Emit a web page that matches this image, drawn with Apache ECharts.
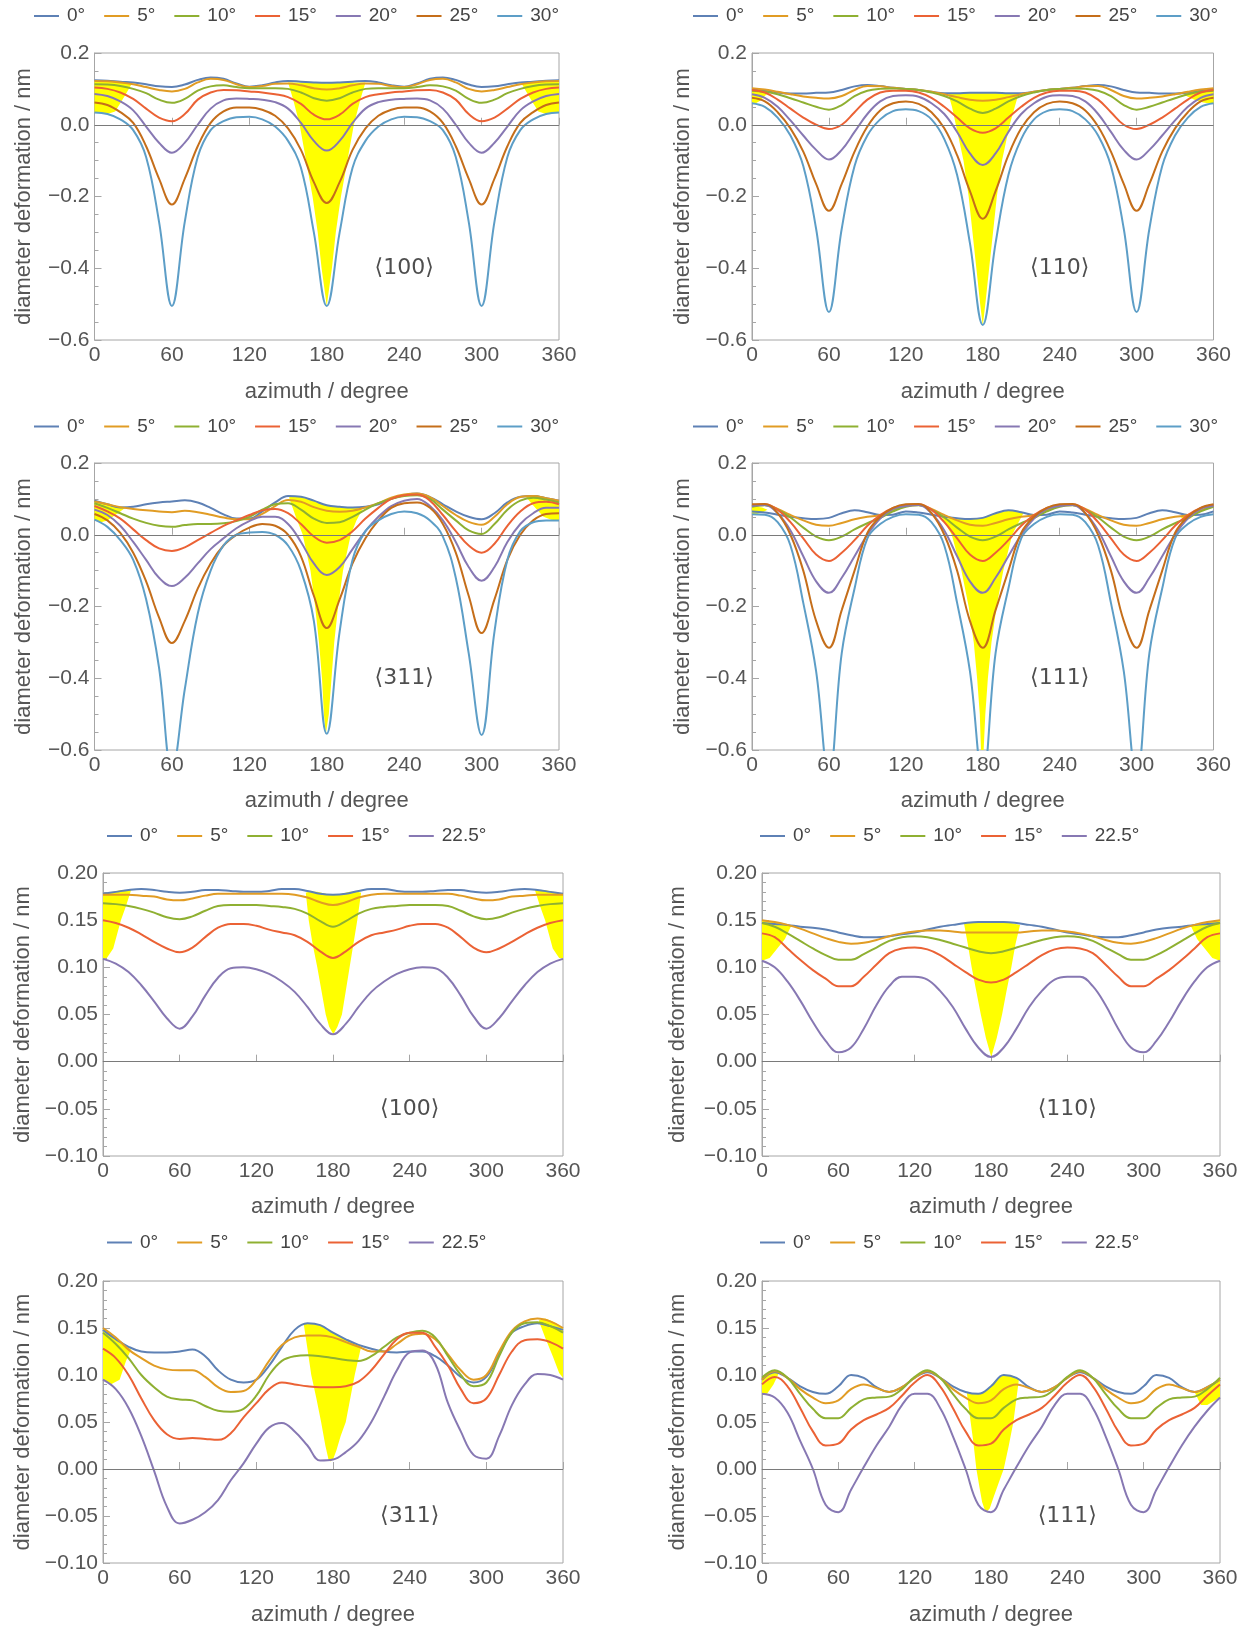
<!DOCTYPE html>
<html lang="en">
  <head>
    <meta charset="UTF-8" />
    <title>Diameter deformation vs azimuth</title>
    <script src="https://cdn.jsdelivr.net/npm/echarts@6/dist/echarts.min.js"></script>
    <style>
      html, body { margin: 0; padding: 0; background: #fff; }
      #main { width: 1252px; height: 1629px; }
    </style>
  </head>
  <body>
    <div id="main"></div>
    <script>
      // azimuth samples, every 10 degrees
      const azimuth = [0,10,20,30,40,50,60,70,80,90,100,110,120,130,140,150,160,170,180,
        190,200,210,220,230,240,250,260,270,280,290,300,310,320,330,340,350,360];
      const tiltsA = ["0°", "5°", "10°", "15°", "20°", "25°", "30°"];
      const tiltsB = ["0°", "5°", "10°", "15°", "22.5°"];
      const tagText = ["⟨100⟩", "⟨110⟩", "⟨311⟩", "⟨111⟩", "⟨100⟩", "⟨110⟩", "⟨311⟩", "⟨111⟩"];
      const tagX = [240, 240, 240, 240, 240, 240, 240, 240];
      const tagY = [-0.4, -0.4, -0.4, -0.4, -0.05, -0.05, -0.05, -0.05];

      // panel 1: <100>, tilts 0..30
      const p1_0 = [0.124,0.123,0.120,0.118,0.113,0.107,0.105,0.112,0.125,0.132,0.128,0.115,0.106,0.110,0.118,0.122,0.120,0.118,0.117,
        0.118,0.120,0.122,0.118,0.110,0.106,0.115,0.128,0.132,0.125,0.112,0.105,0.107,0.113,0.118,0.120,0.123,0.124];
      const p1_5 = [0.122,0.121,0.118,0.113,0.105,0.097,0.093,0.100,0.118,0.128,0.125,0.113,0.105,0.108,0.114,0.115,0.110,0.102,0.098,
        0.102,0.110,0.115,0.114,0.108,0.105,0.113,0.125,0.128,0.118,0.100,0.093,0.097,0.105,0.113,0.118,0.121,0.122];
      const p1_10 = [0.113,0.112,0.108,0.100,0.088,0.070,0.061,0.072,0.095,0.107,0.110,0.105,0.102,0.102,0.102,0.100,0.090,0.074,0.067,
        0.074,0.090,0.100,0.102,0.102,0.102,0.105,0.110,0.107,0.095,0.072,0.061,0.070,0.088,0.100,0.108,0.112,0.113];
      const p1_15 = [0.104,0.100,0.090,0.072,0.045,0.020,0.010,0.030,0.070,0.090,0.097,0.096,0.093,0.090,0.085,0.077,0.058,0.028,0.015,
        0.028,0.058,0.077,0.085,0.090,0.093,0.096,0.097,0.090,0.070,0.030,0.010,0.020,0.045,0.072,0.090,0.100,0.104];
      const p1_20 = [0.086,0.080,0.065,0.040,-0.005,-0.050,-0.078,-0.050,0.000,0.045,0.068,0.073,0.072,0.070,0.063,0.045,0.005,-0.045,-0.072,
        -0.045,0.005,0.045,0.063,0.070,0.072,0.073,0.068,0.045,0.000,-0.050,-0.078,-0.050,-0.005,0.040,0.065,0.080,0.086];
      const p1_25 = [0.062,0.055,0.035,0.005,-0.060,-0.150,-0.222,-0.150,-0.060,0.005,0.037,0.048,0.048,0.042,0.025,-0.010,-0.070,-0.160,-0.218,
        -0.160,-0.070,-0.010,0.025,0.042,0.048,0.048,0.037,0.005,-0.060,-0.150,-0.222,-0.150,-0.060,0.005,0.035,0.055,0.062];
      const p1_30 = [0.034,0.030,0.015,-0.015,-0.090,-0.270,-0.505,-0.270,-0.090,-0.015,0.010,0.021,0.022,0.015,-0.005,-0.045,-0.120,-0.300,-0.505,
        -0.300,-0.120,-0.045,-0.005,0.015,0.022,0.021,0.010,-0.015,-0.090,-0.270,-0.505,-0.270,-0.090,-0.015,0.015,0.030,0.034];

      // panel 2: <110>
      const p2_0 = [0.100,0.096,0.090,0.087,0.087,0.089,0.090,0.097,0.107,0.111,0.108,0.103,0.100,0.097,0.092,0.088,0.088,0.089,0.089,
        0.089,0.088,0.088,0.092,0.097,0.100,0.103,0.108,0.111,0.107,0.097,0.090,0.089,0.087,0.087,0.090,0.096,0.100];
      const p2_5 = [0.102,0.098,0.092,0.085,0.079,0.075,0.073,0.080,0.097,0.108,0.107,0.103,0.100,0.097,0.092,0.085,0.077,0.070,0.067,
        0.070,0.077,0.085,0.092,0.097,0.100,0.103,0.107,0.108,0.097,0.080,0.073,0.075,0.079,0.085,0.092,0.098,0.102];
      const p2_10 = [0.095,0.092,0.085,0.074,0.062,0.050,0.042,0.055,0.080,0.095,0.100,0.101,0.100,0.097,0.090,0.080,0.065,0.045,0.033,
        0.045,0.065,0.080,0.090,0.097,0.100,0.101,0.100,0.095,0.080,0.055,0.042,0.050,0.062,0.074,0.085,0.092,0.095];
      const p2_15 = [0.097,0.090,0.070,0.045,0.020,0.000,-0.012,0.000,0.035,0.070,0.090,0.095,0.095,0.090,0.075,0.050,0.020,-0.010,-0.022,
        -0.010,0.020,0.050,0.075,0.090,0.095,0.095,0.090,0.070,0.035,0.000,-0.012,0.000,0.020,0.045,0.070,0.090,0.097];
      const p2_20 = [0.085,0.075,0.050,0.012,-0.030,-0.070,-0.097,-0.070,-0.020,0.030,0.065,0.080,0.082,0.078,0.060,0.030,-0.020,-0.080,-0.112,
        -0.080,-0.020,0.030,0.060,0.078,0.082,0.080,0.065,0.030,-0.020,-0.070,-0.097,-0.070,-0.030,0.012,0.050,0.075,0.085];
      const p2_25 = [0.075,0.065,0.035,-0.010,-0.075,-0.165,-0.240,-0.165,-0.075,-0.005,0.040,0.060,0.065,0.058,0.035,-0.010,-0.085,-0.185,-0.262,
        -0.185,-0.085,-0.010,0.035,0.058,0.065,0.060,0.040,-0.005,-0.075,-0.165,-0.240,-0.165,-0.075,-0.010,0.035,0.065,0.075];
      const p2_30 = [0.060,0.050,0.020,-0.030,-0.115,-0.290,-0.522,-0.290,-0.115,-0.030,0.015,0.038,0.043,0.038,0.015,-0.040,-0.140,-0.330,-0.558,
        -0.330,-0.140,-0.040,0.015,0.038,0.043,0.038,0.015,-0.030,-0.115,-0.290,-0.522,-0.290,-0.115,-0.030,0.020,0.050,0.060];

      // panel 3: <311>
      const p3_0 = [0.095,0.085,0.076,0.078,0.085,0.090,0.093,0.096,0.090,0.075,0.057,0.045,0.045,0.065,0.090,0.108,0.106,0.095,0.082,
        0.078,0.076,0.078,0.085,0.100,0.110,0.115,0.105,0.085,0.065,0.050,0.043,0.060,0.090,0.106,0.108,0.102,0.095];
      const p3_5 = [0.093,0.085,0.077,0.072,0.068,0.065,0.063,0.067,0.063,0.056,0.048,0.043,0.043,0.058,0.080,0.097,0.092,0.077,0.067,
        0.064,0.067,0.076,0.088,0.103,0.112,0.115,0.105,0.080,0.055,0.036,0.028,0.050,0.085,0.105,0.108,0.102,0.095];
      const p3_10 = [0.088,0.075,0.060,0.045,0.033,0.025,0.022,0.027,0.030,0.030,0.032,0.038,0.050,0.070,0.085,0.088,0.070,0.045,0.033,
        0.035,0.050,0.070,0.088,0.100,0.108,0.110,0.100,0.070,0.040,0.012,0.002,0.030,0.070,0.095,0.103,0.098,0.090];
      const p3_15 = [0.080,0.065,0.045,0.015,-0.015,-0.038,-0.045,-0.035,-0.015,0.005,0.025,0.040,0.055,0.068,0.072,0.060,0.030,-0.005,-0.022,
        -0.015,0.010,0.045,0.075,0.100,0.110,0.112,0.095,0.055,0.010,-0.030,-0.050,-0.025,0.025,0.065,0.088,0.092,0.085];
      const p3_20 = [0.070,0.055,0.025,-0.020,-0.070,-0.120,-0.143,-0.120,-0.080,-0.040,-0.010,0.018,0.038,0.050,0.050,0.030,-0.020,-0.080,-0.112,
        -0.090,-0.040,0.010,0.050,0.080,0.095,0.100,0.080,0.040,-0.020,-0.090,-0.128,-0.090,-0.020,0.030,0.060,0.075,0.075];
      const p3_25 = [0.058,0.040,0.005,-0.050,-0.130,-0.230,-0.302,-0.240,-0.150,-0.080,-0.030,0.000,0.020,0.030,0.025,0.000,-0.060,-0.170,-0.260,
        -0.180,-0.080,-0.010,0.040,0.075,0.088,0.090,0.075,0.030,-0.050,-0.170,-0.274,-0.180,-0.070,0.000,0.040,0.058,0.060];
      const p3_30 = [0.042,0.022,-0.015,-0.070,-0.180,-0.370,-0.660,-0.430,-0.220,-0.100,-0.030,0.000,0.006,0.008,0.000,-0.030,-0.100,-0.240,-0.555,
        -0.270,-0.070,0.010,0.040,0.058,0.065,0.060,0.040,-0.005,-0.120,-0.330,-0.558,-0.270,-0.070,0.010,0.035,0.040,0.040];

      // panel 4: <111>
      const p4_0 = [0.065,0.062,0.056,0.050,0.046,0.044,0.047,0.060,0.068,0.063,0.055,0.056,
        0.065,0.062,0.056,0.050,0.046,0.044,0.047,0.060,0.068,0.063,0.055,0.056,
        0.065,0.062,0.056,0.050,0.046,0.044,0.047,0.060,0.068,0.063,0.055,0.056,0.065];
      const p4_5 = [0.080,0.083,0.072,0.055,0.040,0.028,0.025,0.033,0.043,0.050,0.055,0.068,
        0.080,0.083,0.072,0.055,0.040,0.028,0.025,0.033,0.043,0.050,0.055,0.068,
        0.080,0.083,0.072,0.055,0.040,0.028,0.025,0.033,0.043,0.050,0.055,0.068,0.080];
      const p4_10 = [0.078,0.082,0.070,0.048,0.020,-0.005,-0.015,-0.005,0.015,0.032,0.047,0.065,
        0.078,0.082,0.070,0.048,0.020,-0.005,-0.015,-0.005,0.015,0.032,0.047,0.065,
        0.078,0.082,0.070,0.048,0.020,-0.005,-0.015,-0.005,0.015,0.032,0.047,0.065,0.078];
      const p4_15 = [0.083,0.085,0.070,0.035,-0.010,-0.055,-0.073,-0.050,-0.015,0.025,0.055,0.075,
        0.083,0.085,0.070,0.035,-0.010,-0.055,-0.073,-0.050,-0.015,0.025,0.055,0.075,
        0.083,0.085,0.070,0.035,-0.010,-0.055,-0.073,-0.050,-0.015,0.025,0.055,0.075,0.083];
      const p4_20 = [0.080,0.083,0.060,0.012,-0.060,-0.130,-0.162,-0.120,-0.060,0.000,0.045,0.072,
        0.080,0.083,0.060,0.012,-0.060,-0.130,-0.162,-0.120,-0.060,0.000,0.045,0.072,
        0.080,0.083,0.060,0.012,-0.060,-0.130,-0.162,-0.120,-0.060,0.000,0.045,0.072,0.080];
      const p4_25 = [0.085,0.086,0.060,0.000,-0.100,-0.240,-0.315,-0.210,-0.100,0.005,0.050,0.075,
        0.085,0.086,0.060,0.000,-0.100,-0.240,-0.315,-0.210,-0.100,0.005,0.050,0.075,
        0.085,0.086,0.060,0.000,-0.100,-0.240,-0.315,-0.210,-0.100,0.005,0.050,0.075,0.085];
      const p4_30 = [0.057,0.056,0.035,-0.030,-0.190,-0.380,-0.680,-0.330,-0.150,-0.010,0.030,0.050,
        0.057,0.056,0.035,-0.030,-0.190,-0.380,-0.680,-0.330,-0.150,-0.010,0.030,0.050,
        0.057,0.056,0.035,-0.030,-0.190,-0.380,-0.680,-0.330,-0.150,-0.010,0.030,0.050,0.057];

      // panel 5: <100>, tilts 0..22.5
      const p5_0 = [0.178,0.180,0.182,0.183,0.182,0.180,0.179,0.180,0.182,0.182,0.181,0.180,0.180,0.181,0.183,0.183,0.181,0.178,0.177,
        0.178,0.181,0.183,0.183,0.181,0.180,0.180,0.181,0.182,0.182,0.180,0.179,0.180,0.182,0.183,0.182,0.180,0.178];
      const p5_5 = [0.177,0.177,0.177,0.176,0.175,0.172,0.171,0.173,0.176,0.178,0.178,0.178,0.178,0.178,0.178,0.177,0.174,0.169,0.166,
        0.169,0.174,0.177,0.178,0.178,0.178,0.178,0.178,0.178,0.176,0.173,0.171,0.172,0.175,0.176,0.177,0.177,0.177];
      const p5_10 = [0.168,0.167,0.165,0.162,0.158,0.153,0.151,0.154,0.160,0.165,0.166,0.166,0.166,0.165,0.164,0.162,0.157,0.149,0.143,
        0.149,0.157,0.162,0.164,0.165,0.166,0.166,0.166,0.165,0.160,0.154,0.151,0.153,0.158,0.162,0.165,0.167,0.168];
      const p5_15 = [0.150,0.147,0.142,0.135,0.127,0.120,0.116,0.121,0.132,0.142,0.146,0.146,0.144,0.140,0.137,0.134,0.127,0.117,0.110,
        0.117,0.127,0.134,0.137,0.140,0.144,0.146,0.146,0.142,0.132,0.121,0.116,0.120,0.127,0.135,0.142,0.147,0.150];
      const p5_22 = [0.109,0.104,0.095,0.081,0.064,0.046,0.035,0.048,0.070,0.089,0.099,0.100,0.098,0.093,0.085,0.074,0.058,0.040,0.029,
        0.040,0.058,0.074,0.085,0.093,0.098,0.100,0.099,0.089,0.070,0.048,0.035,0.046,0.064,0.081,0.095,0.104,0.109];

      // panel 6: <110>
      const p6_0 = [0.147,0.146,0.145,0.143,0.142,0.140,0.137,0.134,0.132,0.132,0.133,0.135,0.137,0.140,0.143,0.145,0.147,0.148,0.148,
        0.148,0.147,0.145,0.143,0.140,0.137,0.135,0.133,0.132,0.132,0.134,0.137,0.140,0.142,0.143,0.145,0.146,0.147];
      const p6_5 = [0.150,0.148,0.145,0.141,0.136,0.131,0.127,0.125,0.126,0.129,0.133,0.136,0.138,0.139,0.139,0.138,0.137,0.137,0.137,
        0.137,0.137,0.138,0.139,0.139,0.138,0.136,0.133,0.129,0.126,0.125,0.127,0.131,0.136,0.141,0.145,0.148,0.150];
      const p6_10 = [0.147,0.143,0.136,0.128,0.120,0.113,0.108,0.108,0.114,0.121,0.128,0.132,0.133,0.132,0.129,0.125,0.121,0.117,0.115,
        0.117,0.121,0.125,0.129,0.132,0.133,0.132,0.128,0.121,0.114,0.108,0.108,0.113,0.120,0.128,0.136,0.143,0.147];
      const p6_15 = [0.136,0.132,0.120,0.108,0.097,0.088,0.080,0.080,0.090,0.103,0.115,0.120,0.121,0.119,0.113,0.104,0.095,0.087,0.084,
        0.087,0.095,0.104,0.113,0.119,0.121,0.120,0.115,0.103,0.090,0.080,0.080,0.088,0.097,0.108,0.120,0.132,0.136];
      const p6_22 = [0.107,0.100,0.085,0.065,0.042,0.022,0.010,0.015,0.035,0.060,0.080,0.090,0.090,0.087,0.075,0.058,0.035,0.015,0.005,
        0.015,0.035,0.058,0.075,0.087,0.090,0.090,0.080,0.060,0.035,0.015,0.010,0.022,0.042,0.065,0.085,0.100,0.107];

      // panel 7: <311>
      const p7_0 = [0.148,0.138,0.130,0.125,0.124,0.124,0.125,0.127,0.120,0.105,0.095,0.092,0.095,0.110,0.130,0.148,0.155,0.153,0.145,
        0.138,0.132,0.128,0.125,0.124,0.125,0.125,0.120,0.110,0.098,0.092,0.098,0.122,0.145,0.152,0.155,0.152,0.148];
      const p7_5 = [0.150,0.140,0.127,0.118,0.110,0.106,0.105,0.105,0.098,0.087,0.082,0.083,0.095,0.115,0.132,0.140,0.142,0.142,0.140,
        0.135,0.130,0.125,0.125,0.133,0.142,0.144,0.138,0.122,0.105,0.095,0.100,0.125,0.147,0.157,0.160,0.157,0.150];
      const p7_10 = [0.145,0.133,0.118,0.100,0.087,0.077,0.074,0.073,0.067,0.062,0.061,0.064,0.078,0.100,0.115,0.120,0.121,0.120,0.118,
        0.116,0.115,0.120,0.130,0.140,0.145,0.147,0.140,0.120,0.100,0.088,0.092,0.120,0.145,0.155,0.156,0.152,0.145];
      const p7_15 = [0.128,0.118,0.100,0.075,0.052,0.037,0.032,0.033,0.032,0.031,0.038,0.055,0.070,0.085,0.092,0.090,0.088,0.087,0.087,
        0.088,0.093,0.105,0.122,0.138,0.145,0.145,0.130,0.110,0.085,0.070,0.075,0.100,0.125,0.137,0.138,0.135,0.128];
      const p7_22 = [0.095,0.085,0.065,0.035,-0.002,-0.040,-0.058,-0.054,-0.046,-0.033,-0.012,0.006,0.027,0.044,0.049,0.040,0.025,0.009,0.010,
        0.018,0.030,0.050,0.077,0.105,0.124,0.126,0.112,0.070,0.040,0.015,0.011,0.035,0.068,0.090,0.101,0.100,0.095];

      // panel 8: <111>
      const p8_0 = [0.095,0.103,0.097,0.088,0.082,0.080,0.088,0.100,0.097,0.087,0.082,0.087,
        0.097,0.103,0.097,0.088,0.082,0.080,0.088,0.100,0.097,0.087,0.082,0.087,
        0.097,0.103,0.097,0.088,0.082,0.080,0.088,0.100,0.097,0.087,0.082,0.087,0.095];
      const p8_5 = [0.095,0.104,0.097,0.085,0.076,0.070,0.073,0.085,0.090,0.086,0.082,0.087,
        0.097,0.104,0.097,0.085,0.076,0.070,0.073,0.085,0.090,0.086,0.082,0.087,
        0.097,0.104,0.097,0.085,0.076,0.070,0.073,0.085,0.090,0.086,0.082,0.087,0.095];
      const p8_10 = [0.097,0.105,0.097,0.080,0.064,0.054,0.054,0.065,0.074,0.076,0.077,0.085,
        0.098,0.105,0.097,0.080,0.064,0.054,0.054,0.065,0.074,0.076,0.077,0.085,
        0.098,0.105,0.097,0.080,0.064,0.054,0.054,0.065,0.074,0.076,0.077,0.085,0.097];
      const p8_15 = [0.090,0.098,0.088,0.065,0.040,0.025,0.027,0.042,0.052,0.058,0.065,0.078,
        0.092,0.100,0.088,0.065,0.040,0.025,0.027,0.042,0.052,0.058,0.065,0.078,
        0.092,0.100,0.088,0.065,0.040,0.025,0.027,0.042,0.052,0.058,0.065,0.078,0.090];
      const p8_22 = [0.080,0.076,0.060,0.030,0.000,-0.038,-0.046,-0.022,0.002,0.025,0.045,0.068,
        0.080,0.080,0.065,0.035,0.000,-0.038,-0.046,-0.022,0.002,0.025,0.045,0.068,
        0.080,0.080,0.065,0.035,0.000,-0.038,-0.046,-0.022,0.002,0.025,0.045,0.062,0.076];

      // yellow shaded wedges: azimuth, upper edge, lower edge
      const shade1 = [
        { x: [0,5,10,16,20,25,29], top: [0.122,0.121,0.121,0.120,0.118,0.117,0.115], bot: [0.034,0.033,0.030,0.037,0.060,0.090,0.115] },
        { x: [150,154,159,164,169,173,176,180,184,187,191,196,201,206,210],
          top: [0.118,0.118,0.118,0.118,0.117,0.117,0.117,0.116,0.117,0.117,0.117,0.118,0.118,0.118,0.118],
          bot: [0.118,0.070,0.000,-0.100,-0.200,-0.300,-0.400,-0.505,-0.400,-0.300,-0.200,-0.100,0.000,0.070,0.118] },
        { x: [331,335,340,344,350,355,360], top: [0.115,0.117,0.118,0.120,0.121,0.121,0.122], bot: [0.115,0.090,0.060,0.037,0.030,0.033,0.034] }
      ];
      const shade2 = [
        { x: [0,3,6,10,13], top: [0.100,0.099,0.097,0.094,0.090], bot: [0.062,0.060,0.066,0.080,0.090] },
        { x: [153,156,159,165,169,172,175,178,180,182,185,188,191,195,201,205,208],
          top: [0.088,0.088,0.088,0.088,0.089,0.089,0.089,0.089,0.089,0.089,0.089,0.089,0.089,0.088,0.088,0.088,0.088],
          bot: [0.088,0.050,0.000,-0.100,-0.200,-0.300,-0.400,-0.500,-0.560,-0.500,-0.400,-0.300,-0.200,-0.100,0.000,0.050,0.088] },
        { x: [334,340,346,352,356,360], top: [0.090,0.090,0.092,0.096,0.099,0.100], bot: [0.090,0.078,0.068,0.062,0.060,0.060] }
      ];
      const shade3 = [
        { x: [0,5,10,15,20,25], top: [0.095,0.090,0.086,0.080,0.078,0.078], bot: [0.042,0.035,0.040,0.052,0.065,0.078] },
        { x: [151,156,161.4,167.4,171,174,176.3,177.8,179.3,181.6,183.7,185.8,188.8,192.6,198.6,203,207.5],
          top: [0.106,0.107,0.105,0.099,0.094,0.090,0.087,0.085,0.083,0.081,0.080,0.079,0.078,0.077,0.076,0.075,0.070],
          bot: [0.102,0.050,0.000,-0.100,-0.200,-0.300,-0.400,-0.500,-0.555,-0.500,-0.400,-0.300,-0.200,-0.100,0.000,0.040,0.070] },
        { x: [334,338,343,348,354,360], top: [0.108,0.110,0.110,0.106,0.100,0.095], bot: [0.108,0.090,0.070,0.050,0.042,0.040] }
      ];
      const shade4 = [
        { x: [0,4,8,12], top: [0.078,0.078,0.076,0.070], bot: [0.057,0.058,0.062,0.070] },
        { x: [148,151,155.8,163.4,169,173,175.6,177.7,178.6,180.7,182,184,186.8,190.8,196,203,208,212],
          top: [0.050,0.046,0.045,0.044,0.044,0.045,0.046,0.046,0.047,0.048,0.050,0.053,0.057,0.060,0.065,0.068,0.066,0.062],
          bot: [0.050,0.030,0.000,-0.100,-0.200,-0.300,-0.400,-0.500,-0.600,-0.600,-0.500,-0.400,-0.300,-0.200,-0.100,0.000,0.035,0.062] },
        { x: [334,338,342,346], top: [0.050,0.052,0.055,0.058], bot: [0.050,0.040,0.045,0.058] }
      ];
      const shade5 = [
        { x: [0,3,8,14,18,22], top: [0.178,0.179,0.180,0.182,0.182,0.182], bot: [0.109,0.110,0.120,0.150,0.165,0.182] },
        { x: [158.7,161,164,167.7,171,174.3,177,180.3,183.5,187,190,193,196,199,202],
          top: [0.179,0.180,0.180,0.180,0.179,0.178,0.177,0.177,0.177,0.178,0.179,0.180,0.180,0.180,0.179],
          bot: [0.179,0.150,0.125,0.100,0.075,0.050,0.037,0.029,0.037,0.050,0.075,0.100,0.125,0.150,0.179] },
        { x: [338,342,346,352,357,360], top: [0.182,0.182,0.182,0.180,0.179,0.178], bot: [0.182,0.165,0.150,0.120,0.110,0.109] }
      ];
      const shade6 = [
        { x: [0,6,12,18,23], top: [0.150,0.149,0.147,0.146,0.144], bot: [0.107,0.110,0.120,0.130,0.144] },
        { x: [158.7,161.7,164.8,168.4,172,176,180.2,184.5,188.7,192.2,196,199.3,202.8],
          top: [0.147,0.148,0.148,0.148,0.148,0.148,0.148,0.148,0.148,0.148,0.147,0.146,0.145],
          bot: [0.147,0.125,0.100,0.075,0.050,0.025,0.005,0.025,0.050,0.075,0.100,0.125,0.145] },
        { x: [337,342,348,354,360], top: [0.144,0.146,0.147,0.149,0.150], bot: [0.144,0.130,0.120,0.110,0.107] }
      ];
      const shade7 = [
        { x: [0,6,13,18,22], top: [0.150,0.144,0.134,0.130,0.127], bot: [0.095,0.090,0.095,0.115,0.127] },
        { x: [157,160,163,167,170.7,174,176.5,178,180,182.7,186,190,193.5,197,200,202],
          top: [0.155,0.155,0.155,0.154,0.152,0.150,0.148,0.147,0.145,0.143,0.141,0.138,0.136,0.134,0.132,0.130],
          bot: [0.155,0.128,0.100,0.075,0.050,0.025,0.010,0.008,0.010,0.020,0.035,0.050,0.075,0.100,0.118,0.130] },
        { x: [341,346,352,357,360], top: [0.158,0.160,0.157,0.153,0.150], bot: [0.158,0.140,0.120,0.102,0.097] }
      ];
      const shade8 = [
        { x: [0,4,9,14], top: [0.097,0.101,0.104,0.104], bot: [0.080,0.080,0.090,0.104] },
        { x: [161,164,166,168.5,171,173,175,177,179,182,186,190,194,197.6,200,202],
          top: [0.081,0.080,0.080,0.080,0.080,0.081,0.082,0.084,0.087,0.092,0.097,0.100,0.100,0.099,0.097,0.096],
          bot: [0.081,0.050,0.030,0.000,-0.020,-0.035,-0.043,-0.045,-0.042,-0.030,-0.015,0.000,0.025,0.050,0.075,0.096] },
        { x: [340,345,350,355,360], top: [0.082,0.083,0.086,0.090,0.095], bot: [0.082,0.068,0.068,0.072,0.076] }
      ];

      const colors = ["#5E81B5", "#E19C24", "#8FB032", "#EB6235", "#8778B3", "#C56E1A", "#5D9EC7"];
      const FONT = '"Liberation Sans", Arial, "DejaVu Sans", sans-serif';

      const panels = [
        { curves: [p1_0, p1_5, p1_10, p1_15, p1_20, p1_25, p1_30], names: tiltsA, shade: shade1 },
        { curves: [p2_0, p2_5, p2_10, p2_15, p2_20, p2_25, p2_30], names: tiltsA, shade: shade2 },
        { curves: [p3_0, p3_5, p3_10, p3_15, p3_20, p3_25, p3_30], names: tiltsA, shade: shade3 },
        { curves: [p4_0, p4_5, p4_10, p4_15, p4_20, p4_25, p4_30], names: tiltsA, shade: shade4 },
        { curves: [p5_0, p5_5, p5_10, p5_15, p5_22], names: tiltsB, shade: shade5 },
        { curves: [p6_0, p6_5, p6_10, p6_15, p6_22], names: tiltsB, shade: shade6 },
        { curves: [p7_0, p7_5, p7_10, p7_15, p7_22], names: tiltsB, shade: shade7 },
        { curves: [p8_0, p8_5, p8_10, p8_15, p8_22], names: tiltsB, shade: shade8 }
      ];

      // page layout of the 4 x 2 grid of frames
      const layout = [
        { left: 94.5, top: 53, width: 464.5, height: 287, legendLeft: 34, legendMid: 15.5, gapY: 60, gapX: 41 },
        { left: 752, top: 53, width: 461.5, height: 287, legendLeft: 693, legendMid: 15.5, gapY: 58, gapX: 41 },
        { left: 94.5, top: 463, width: 464.5, height: 287, legendLeft: 34, legendMid: 426, gapY: 60, gapX: 40 },
        { left: 752, top: 463, width: 461.5, height: 287, legendLeft: 693, legendMid: 426, gapY: 58, gapX: 40 },
        { left: 103, top: 873, width: 460, height: 283, legendLeft: 107, legendMid: 835.5, gapY: 69, gapX: 40 },
        { left: 762, top: 873, width: 458, height: 283, legendLeft: 760, legendMid: 835.5, gapY: 73, gapX: 40 },
        { left: 103, top: 1281, width: 460, height: 282, legendLeft: 107, legendMid: 1242, gapY: 69, gapX: 41 },
        { left: 762, top: 1281, width: 458, height: 282, legendLeft: 760, legendMid: 1242, gapY: 73, gapX: 41 }
      ];

      function tickFormatter(digits) {
        return function (v) {
          return (v < -1e-9 ? "\u2212" : "") + Math.abs(v).toFixed(digits);
        };
      }

      let option = {
        animation: false,
        backgroundColor: "#ffffff",
        textStyle: { fontFamily: FONT },
        grid: [],
        xAxis: [],
        yAxis: [],
        legend: [],
        series: []
      };

      panels.forEach((panel, i) => {
        let lay = layout[i];
        let big = i < 4;

        option.grid.push({
          left: lay.left, top: lay.top, width: lay.width, height: lay.height,
          show: true, borderColor: "#a6a6a6", borderWidth: 1, backgroundColor: "transparent"
        });

        option.xAxis.push({
          gridIndex: i, type: "value", min: 0, max: 360, interval: 60,
          name: "azimuth / degree", nameLocation: "middle", nameGap: lay.gapX,
          nameTextStyle: { fontSize: 22, color: "#555", fontFamily: FONT },
          axisLine: { show: true, lineStyle: { color: "#a6a6a6" } },
          axisTick: { show: true, inside: true, length: 7, lineStyle: { color: "#a6a6a6" } },
          axisLabel: { fontSize: 21, color: "#555", margin: 5, fontFamily: FONT, showMinLabel: true, showMaxLabel: true },
          splitLine: { show: false }
        });

        option.yAxis.push({
          gridIndex: i, type: "value",
          min: big ? -0.6 : -0.1, max: big ? 0.2 : 0.2, interval: big ? 0.2 : 0.05,
          name: "diameter deformation / nm", nameLocation: "middle", nameGap: lay.gapY, nameRotate: 90,
          nameTextStyle: { fontSize: 22, color: "#555", fontFamily: FONT },
          axisLine: { show: true, lineStyle: { color: "#a6a6a6" } },
          axisTick: { show: true, inside: true, length: 7, lineStyle: { color: "#a6a6a6" } },
          minorTick: { show: true, splitNumber: big ? 4 : 5, length: 4, lineStyle: { color: "#a6a6a6" } },
          axisLabel: {
            fontSize: 21, color: "#555", margin: 5, fontFamily: FONT,
            showMinLabel: true, showMaxLabel: true, formatter: tickFormatter(big ? 1 : 2)
          },
          splitLine: { show: false }
        });

        option.legend.push({
          data: panel.names,
          left: lay.legendLeft, top: lay.legendMid - 9,
          icon: "rect", itemWidth: 25, itemHeight: 2, itemGap: 19, padding: 0,
          selectedMode: false,
          textStyle: { fontSize: 19, color: "#444", fontFamily: FONT, padding: [0, 0, 0, 3] }
        });

        // yellow wedges, drawn under the curves
        let regions = panel.shade;
        option.series.push({
          type: "custom", name: "shade" + i, xAxisIndex: i, yAxisIndex: i,
          z: 1, silent: true, clip: true,
          data: regions.map((r, k) => [r.x[0], r.top[0], k]),
          renderItem: function (params, api) {
            let r = regions[params.dataIndex];
            let pts = [];
            r.x.forEach((x, j) => pts.push(api.coord([x, r.top[j]])));
            for (let j = r.x.length - 1; j >= 0; j--) pts.push(api.coord([r.x[j], r.bot[j]]));
            return { type: "polygon", shape: { points: pts }, style: { fill: "#ffff00" } };
          }
        });

        panel.curves.forEach((values, k) => {
          let s = {
            type: "line", name: panel.names[k], xAxisIndex: i, yAxisIndex: i,
            data: azimuth.map((a, j) => [a, values[j]]),
            symbol: "none", showSymbol: false, smooth: 0.4, z: 3,
            lineStyle: { width: 2, color: colors[k] },
            itemStyle: { color: colors[k] },
            emphasis: { disabled: true }
          };
          if (k === 0) {
            s.markLine = {
              silent: true, symbol: ["none", "none"], label: { show: false },
              lineStyle: { color: "#7a7a7a", width: 1, type: "solid" },
              data: [{ yAxis: 0 }]
            };
          }
          option.series.push(s);
        });

        option.series.push({
          type: "scatter", name: "tag" + i, xAxisIndex: i, yAxisIndex: i,
          data: [[tagX[i], tagY[i]]], symbolSize: 1, z: 5, silent: true,
          itemStyle: { color: "rgba(0,0,0,0)" },
          label: {
            show: true, position: "inside", formatter: tagText[i],
            fontSize: 22, color: "#222", fontFamily: '"DejaVu Sans", "Liberation Sans", sans-serif'
          }
        });
      });

      let chart = echarts.init(document.getElementById("main"));
      chart.setOption(option);
    </script>
  </body>
</html>
